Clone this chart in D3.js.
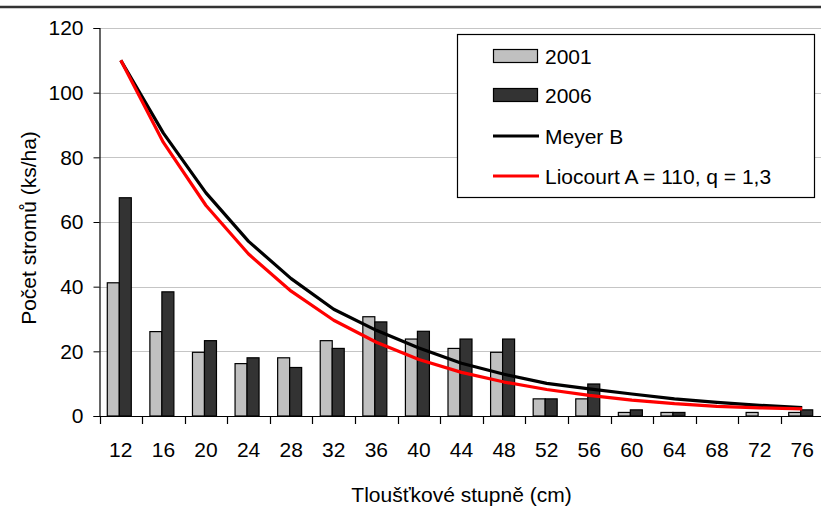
<!DOCTYPE html>
<html>
<head>
<meta charset="utf-8">
<script src="https://cdn.jsdelivr.net/npm/d3@7"></script>
<style>
  html, body { margin: 0; padding: 0; background: #fff; }
  svg { display: block; font-family: "Liberation Sans", Arial, sans-serif; }
</style>
</head>
<body>
<svg id="chart" width="821" height="532"></svg>
<script>
// ---- data ----
const categories = ["12","16","20","24","28","32","36","40","44","48","52","56","60","64","68","72","76"];
const values2001 = [41.2, 26.1, 19.7, 16.2, 18.0, 23.3, 30.7, 23.8, 20.9, 19.7, 5.3, 5.3, 1.1, 1.1, 0, 1.1, 1.1];
const values2006 = [67.5, 38.4, 23.3, 18.0, 15.0, 20.9, 29.1, 26.2, 23.8, 23.8, 5.3, 9.9, 1.9, 1.1, 0, 0, 1.9];
const meyerB     = [110, 87.5, 69, 54, 42.5, 33, 26.5, 21, 16.3, 12.9, 10.1, 8.4, 6.8, 5.3, 4.2, 3.3, 2.6];
const liocourt   = [110, 84.6, 65.1, 50.1, 38.6, 29.6, 22.8, 17.5, 13.5, 10.5, 8.2, 6.4, 4.9, 3.8, 3.0, 2.5, 2.2];
const yTicks     = [0, 20, 40, 60, 80, 100, 120];
const seriesNames = ["2001", "2006"];
const legendLabels = ["2001", "2006", "Meyer B", "Liocourt A = 110, q = 1,3"];
const xTitle = "Tloušťkové stupně (cm)";
const yTitle = "Počet stromů (ks/ha)";

// ---- layout ----
const svg = d3.select("#chart");
const FONT = 21;
const plot = { left: 99.5, right: 823.5, top: 28, bottom: 416 };

const x = d3.scaleBand().domain(categories).range([plot.left, plot.right]).padding(0);
const y = d3.scaleLinear().domain([0, 120]).range([plot.bottom, plot.top]);
const xc = c => x(c) + x.bandwidth() / 2;
const inner = d3.scaleBand().domain(seriesNames).range([-13.5, 10.5]).padding(0);

// top frame line
svg.append("line").attr("x1", 0).attr("x2", 821).attr("y1", 7).attr("y2", 7)
  .attr("stroke", "#333").attr("stroke-width", 2.5);

// gridlines
svg.append("g").selectAll("line").data(yTicks.filter(v => v > 0)).join("line")
  .attr("x1", plot.left).attr("x2", 821)
  .attr("y1", d => Math.round(y(d)) + 0.5).attr("y2", d => Math.round(y(d)) + 0.5)
  .attr("stroke", "#8a8a8a").attr("stroke-width", 1).attr("stroke-dasharray", "1,1");

// bars
const groups = svg.append("g").selectAll("g").data(categories).join("g");
const barData = (c, i) => [
  { s: "2001", v: values2001[i], fill: "#c0c0c0" },
  { s: "2006", v: values2006[i], fill: "#333333" }
];
groups.each(function(c, i) {
  d3.select(this).selectAll("rect").data(barData(c, i).filter(d => d.v > 0)).join("rect")
    .attr("x", d => xc(c) + inner(d.s))
    .attr("width", inner.bandwidth())
    .attr("y", d => y(d.v))
    .attr("height", d => y(0) - y(d.v))
    .attr("fill", d => d.fill)
    .attr("stroke", "#000").attr("stroke-width", 1.2);
});

// lines
const line = d3.line().x((d, i) => xc(categories[i])).y(d => y(d));
svg.append("path").datum(meyerB).attr("d", line)
  .attr("fill", "none").attr("stroke", "#000").attr("stroke-width", 3.2).attr("stroke-linejoin", "round");
svg.append("path").datum(liocourt).attr("d", line)
  .attr("fill", "none").attr("stroke", "#ff0000").attr("stroke-width", 3.2).attr("stroke-linejoin", "round");

// y axis
const yAxis = d3.axisLeft(y).tickValues(yTicks).tickSize(6).tickPadding(10).tickFormat(d3.format("d"));
const gy = svg.append("g").attr("transform", `translate(${plot.left},0)`).call(yAxis);
gy.select(".domain").attr("stroke", "#000").attr("stroke-width", 1.2);
gy.selectAll(".tick line").attr("stroke", "#000");
gy.selectAll(".tick text").attr("font-size", FONT).attr("fill", "#000")
  .attr("font-family", "Liberation Sans, Arial, sans-serif");

// x axis (labels at category centres, ticks between categories)
const xAxis = d3.axisBottom(x).tickSize(0).tickPadding(26);
const gx = svg.append("g").attr("transform", `translate(0,${plot.bottom})`).call(xAxis);
gx.select(".domain").remove();
gx.selectAll(".tick text").attr("font-size", FONT).attr("fill", "#000")
  .attr("font-family", "Liberation Sans, Arial, sans-serif");
svg.append("line").attr("x1", plot.left).attr("x2", 821)
  .attr("y1", plot.bottom + 0.5).attr("y2", plot.bottom + 0.5).attr("stroke", "#000").attr("stroke-width", 1.2);
svg.append("g").selectAll("line").data(categories).join("line")
  .attr("x1", d => Math.round(x(d)) + 0.5).attr("x2", d => Math.round(x(d)) + 0.5)
  .attr("y1", plot.bottom).attr("y2", plot.bottom + 8)
  .attr("stroke", "#000").attr("stroke-width", 1.2);

// axis titles
svg.append("text").attr("x", (plot.left + plot.right) / 2).attr("y", 502)
  .attr("text-anchor", "middle").attr("font-size", FONT).attr("fill", "#000").text(xTitle);
svg.append("text").attr("transform", `translate(36,228) rotate(-90)`)
  .attr("text-anchor", "middle").attr("font-size", FONT).attr("fill", "#000").text(yTitle);

// legend
const lg = svg.append("g");
lg.append("rect").attr("x", 457.5).attr("y", 34.5).attr("width", 357).attr("height", 163)
  .attr("fill", "#fff").attr("stroke", "#000").attr("stroke-width", 1.2);
const rowY = [56, 95, 136, 176];
const swatchFill = ["#c0c0c0", "#333333", null, null];
const swatchLine = [null, null, "#000", "#ff0000"];
legendLabels.forEach((lab, i) => {
  if (swatchFill[i]) {
    lg.append("rect").attr("x", 493.5).attr("y", rowY[i] - 6.5).attr("width", 44).attr("height", 13)
      .attr("fill", swatchFill[i]).attr("stroke", "#000").attr("stroke-width", 1.2);
  } else {
    lg.append("line").attr("x1", 493).attr("x2", 539).attr("y1", rowY[i]).attr("y2", rowY[i])
      .attr("stroke", swatchLine[i]).attr("stroke-width", 3);
  }
  lg.append("text").attr("x", 545).attr("y", rowY[i] + 8).attr("font-size", FONT).attr("fill", "#000").text(lab);
});
</script>
</body>
</html>
